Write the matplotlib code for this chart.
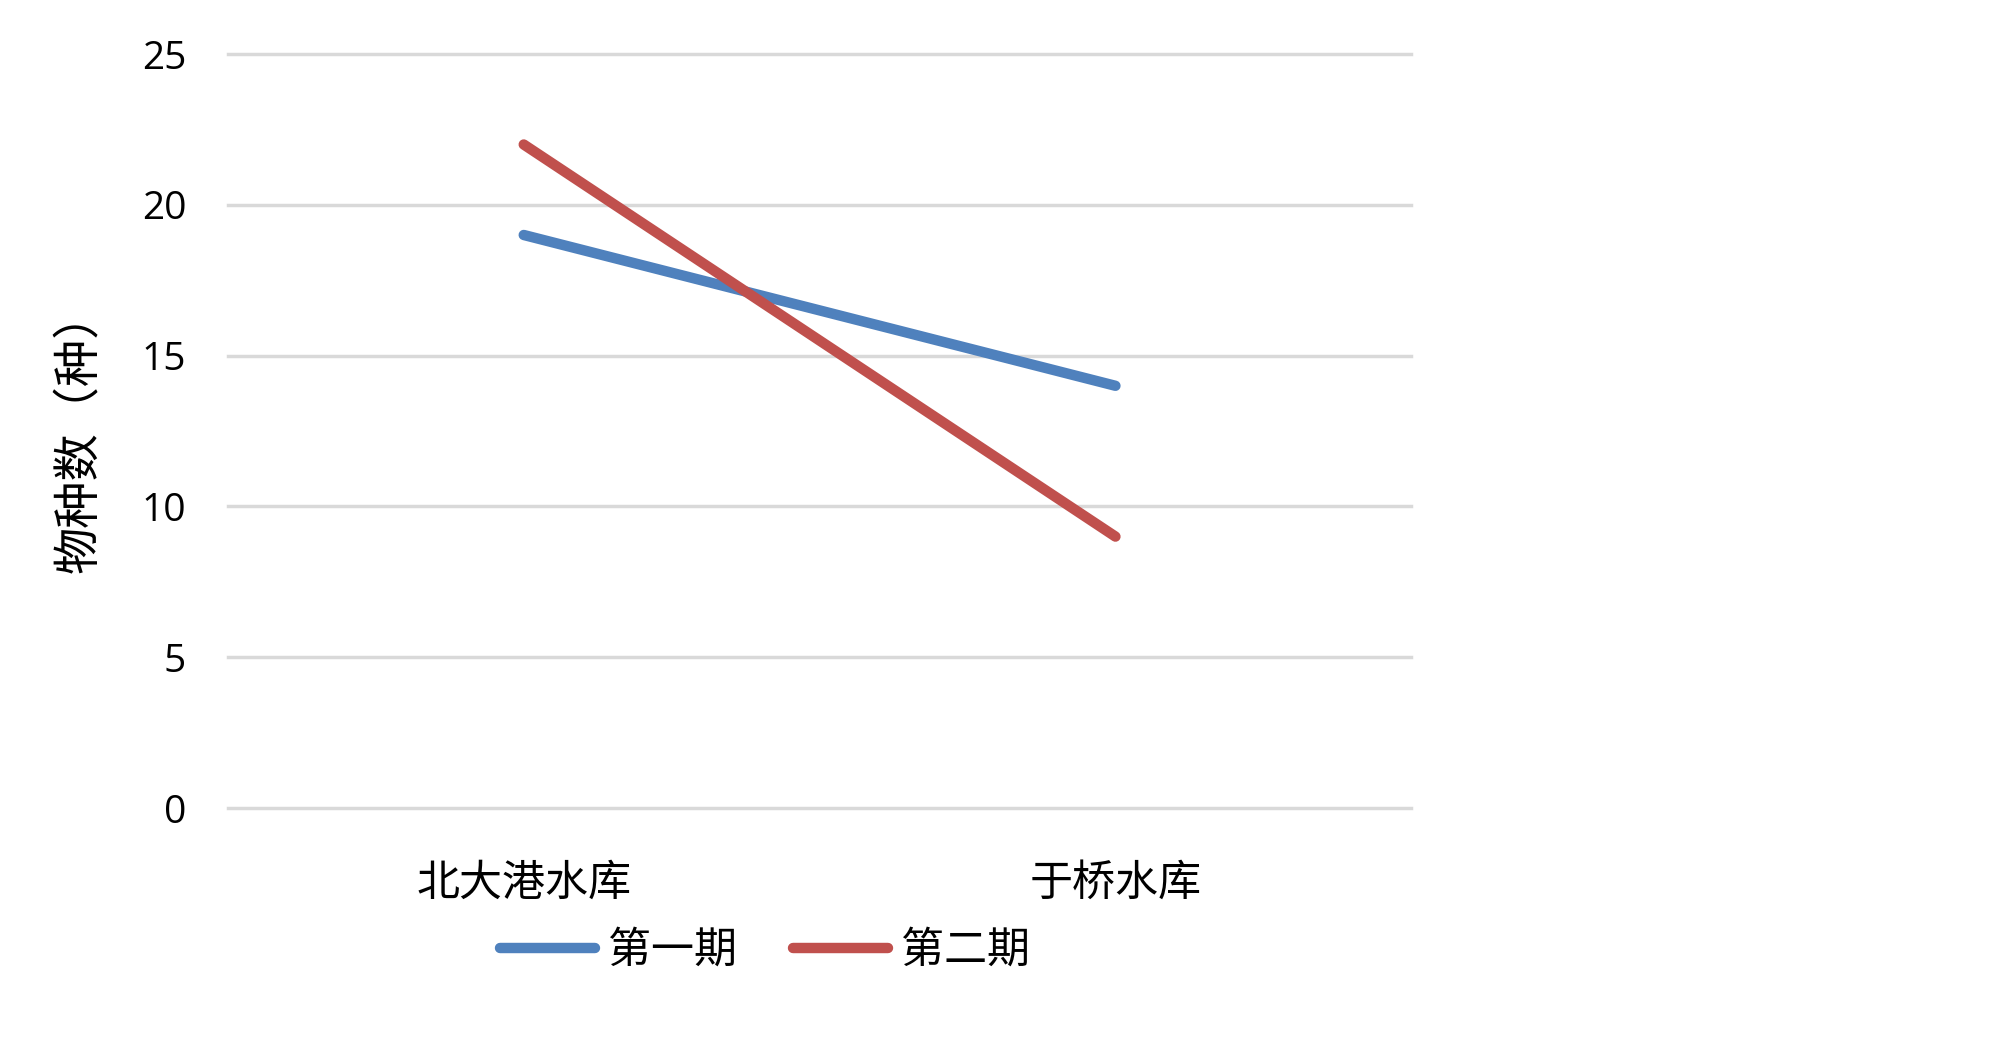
import matplotlib.pyplot as plt

# DATA

sites = ["北大港水库", "于桥水库"]
period1 = [19, 14]
period2 = [22, 9]
series_names = ["第一期", "第二期"]
y_ticks = [0, 5, 10, 15, 20, 25]

cjk = ["Noto Sans CJK SC", "DejaVu Sans"]
plt.rcParams['font.family'] = cjk

fig = plt.figure(figsize=(19.99, 10.39), dpi=100)
ax = fig.add_axes([0.114, 0.2223, 0.592, 0.7257])

x = list(range(len(sites)))
ax.plot(x, period1, color="#4F81BD", lw=7.5, solid_capstyle="round", label=series_names[0], zorder=3)
ax.plot(x, period2, color="#C0504D", lw=7.5, solid_capstyle="round", label=series_names[1], zorder=4)

ax.set_xlim(-0.5, 1.5)
ax.set_ylim(0, 25)
ax.set_yticks(y_ticks)
ax.set_yticklabels([str(v) for v in y_ticks], fontsize=28, family=["Open Sans", "DejaVu Sans"])
ax.set_xticks(x)
ax.set_xticklabels(sites, fontsize=31)
ax.tick_params(axis="both", length=0)
ax.tick_params(axis="y", pad=30)
ax.tick_params(axis="x", pad=39)

for v in y_ticks:
    ax.axhline(v, color="#D9D9D9", lw=2.5, zorder=1, clip_on=False)
for s in ax.spines.values():
    s.set_visible(False)

ax.set_ylabel("物种数（种）", fontsize=34, labelpad=28)

ax.legend(loc="center", bbox_to_anchor=(765 / 1999, 1 - 951 / 1039), bbox_transform=fig.transFigure,
          ncol=2, frameon=False, fontsize=31, handlelength=2.2, columnspacing=1.3, handletextpad=0.3)

fig.savefig("out.png", dpi=100)
